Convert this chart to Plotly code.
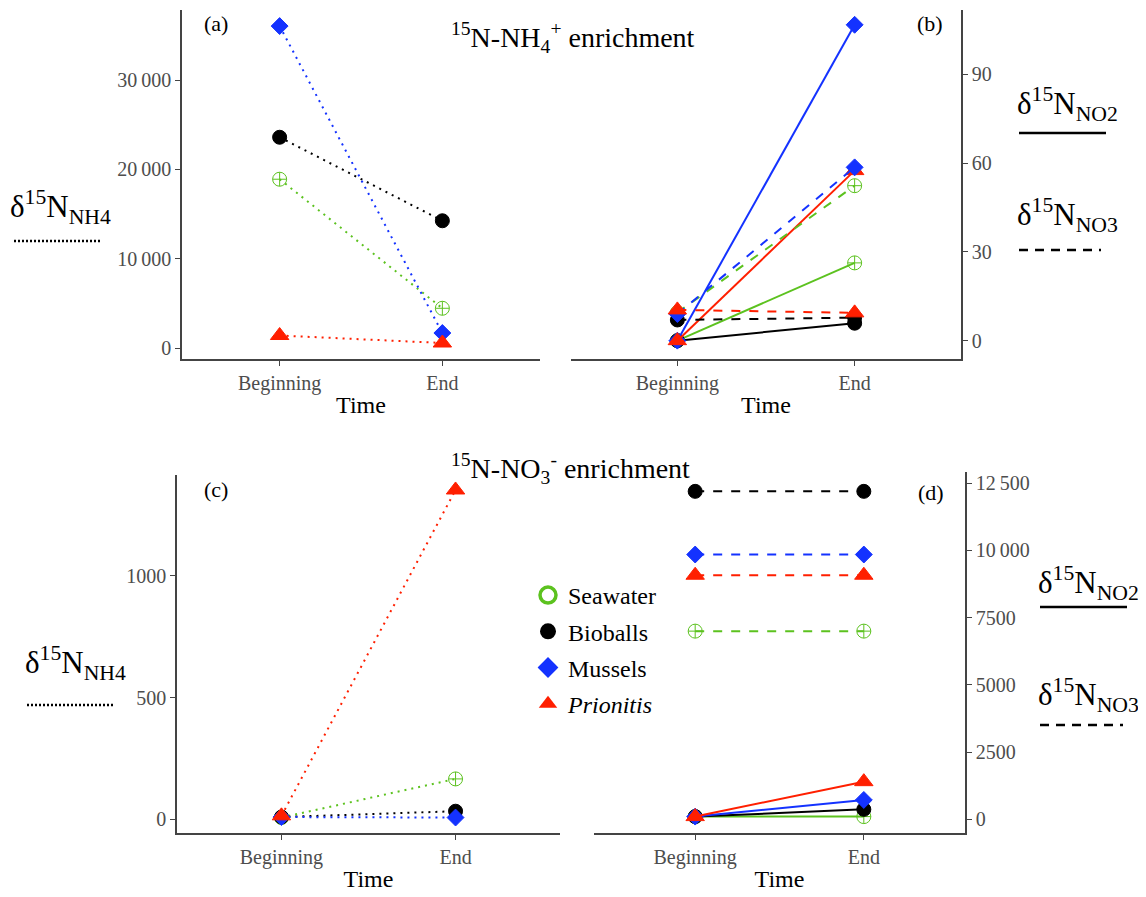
import plotly.graph_objects as go

# ---------------- data ----------------
groups = ["Seawater", "Bioballs", "Mussels", "Prionitis"]
time_labels = ["Beginning", "End"]

# panel (a): 15N-NH4+ enrichment, d15N-NH4 (dotted)
a_nh4_begin = [18900, 23600, 36050, 1400]
a_nh4_end = [4450, 14250, 1680, 560]

# panel (b): 15N-NH4+ enrichment, d15N-NO2 (solid) and d15N-NO3 (dashed)
b_no2_begin = [0.0, 0.0, 0.0, 0.0]
b_no2_end = [26.3, 5.9, 106.8, 57.5]
b_no3_begin = [9.5, 7.0, 9.0, 10.4]
b_no3_end = [52.4, 7.8, 58.6, 9.4]

# panel (c): 15N-NO3- enrichment, d15N-NH4 (dotted)
c_nh4_begin = [6, 8, 8, 13]
c_nh4_end = [165, 32, 6, 1354]

# panel (d): 15N-NO3- enrichment, d15N-NO2 (solid) and d15N-NO3 (dashed)
d_no2_begin = [100, 100, 100, 100]
d_no2_end = [100, 370, 720, 1400]
d_no3_begin = [7000, 12200, 9850, 9080]
d_no3_end = [7000, 12200, 9850, 9080]

# tick labels
a_tickvals = [0, 10000, 20000, 30000]
a_ticktext = ["0", "10\u2009000", "20\u2009000", "30\u2009000"]
b_tickvals = [0, 30, 60, 90]
b_ticktext = ["0", "30", "60", "90"]
c_tickvals = [0, 500, 1000]
c_ticktext = ["0", "500", "1000"]
d_tickvals = [0, 2500, 5000, 7500, 10000, 12500]
d_ticktext = ["0", "2500", "5000", "7500", "10\u2009000", "12\u2009500"]

# ---------------- styles ----------------
OFF = 8                      # default page body margin
W, H = 1146 - OFF, 897 - OFF
FONT = "Liberation Serif, Times New Roman, serif"
colors = {"Seawater": "#5cc21f", "Bioballs": "#000000", "Mussels": "#1432ff", "Prionitis": "#ff1f00"}
symbols = {"Seawater": "circle-cross-open", "Bioballs": "circle", "Mussels": "diamond", "Prionitis": "triangle-up"}
msize = {"Seawater": 14, "Bioballs": 14, "Mussels": 13, "Prionitis": 16}
DOT = "2px,5px"


def px_x(p):
    return (p - OFF) / W


def px_y(p):
    return 1 - (p - OFF) / H


xpos = [0, 1]
fig = go.Figure()


def add_series(begin, end, dash, xa, ya):
    for i, g in enumerate(groups):
        fig.add_trace(go.Scatter(
            x=xpos, y=[begin[i], end[i]], mode="lines+markers",
            line=dict(color=colors[g], width=2, dash=dash),
            marker=dict(symbol=symbols[g], size=msize[g], color=colors[g],
                        line=dict(width=1, color=colors[g])),
            xaxis=xa, yaxis=ya, showlegend=False, name=g, cliponaxis=False))


add_series(a_nh4_begin, a_nh4_end, DOT, "x", "y")
add_series(b_no2_begin, b_no2_end, "solid", "x2", "y2")
add_series(b_no3_begin, b_no3_end, "dash", "x2", "y2")
add_series(c_nh4_begin, c_nh4_end, DOT, "x3", "y3")
add_series(d_no3_begin, d_no3_end, "dash", "x4", "y4")
add_series(d_no2_begin, d_no2_end, "solid", "x4", "y4")

# legend entries (markers only)
leg_sym = {"Seawater": "circle-open", "Bioballs": "circle", "Mussels": "diamond", "Prionitis": "triangle-up"}
for g in groups:
    fig.add_trace(go.Scatter(
        x=[None], y=[None], mode="markers", xaxis="x3", yaxis="y3",
        name=("<i>%s</i>" % g) if g == "Prionitis" else g,
        legendgroup=g,
        marker=dict(symbol=leg_sym[g], size=16, color=colors[g],
                    line=dict(width=3.5 if g == "Seawater" else 0, color=colors[g]))))

axis_common = dict(showgrid=False, zeroline=False, showline=True, linecolor="#444", linewidth=1.5,
                   ticks="outside", ticklen=5, tickcolor="#444", tickwidth=1.2,
                   tickfont=dict(family=FONT, size=20, color="#4d4d4d"))


def xaxis(dom, anchor):
    return dict(axis_common, domain=[px_x(dom[0]), px_x(dom[1])], anchor=anchor,
                range=[-0.6, 1.6], tickvals=xpos, ticktext=time_labels,
                title=dict(text="Time", font=dict(family=FONT, size=24, color="black"), standoff=2))


def yaxis(dom, anchor, rng, tv, tt, side):
    return dict(axis_common, domain=[px_y(dom[1]), px_y(dom[0])], anchor=anchor, side=side,
                range=rng, tickvals=tv, ticktext=tt)


fig.update_layout(
    width=W, height=H, autosize=False,
    margin=dict(l=0, r=0, t=0, b=0),
    paper_bgcolor="white", plot_bgcolor="white",
    font=dict(family=FONT, color="black"),
    xaxis=xaxis([182, 540], "y"),
    yaxis=yaxis([10, 359], "x", [-1230, 37850], a_tickvals, a_ticktext, "left"),
    xaxis2=xaxis([571, 961], "y2"),
    yaxis2=yaxis([10, 359], "x2", [-6.2, 111.8], b_tickvals, b_ticktext, "right"),
    xaxis3=xaxis([177, 560], "y3"),
    yaxis3=yaxis([475, 833], "x3", [-57.6, 1415.6], c_tickvals, c_ticktext, "left"),
    xaxis4=xaxis([594, 965], "y4"),
    yaxis4=yaxis([472, 833], "x4", [-510, 12920], d_tickvals, d_ticktext, "right"),
    legend=dict(x=px_x(528), y=px_y(573), xanchor="left", yanchor="top",
                font=dict(family=FONT, size=24, color="black"),
                bgcolor="rgba(0,0,0,0)", tracegroupgap=2, itemsizing="trace"),
)

ann = []


def text(x, y, t, size, anchor="left"):
    ann.append(dict(x=px_x(x), y=px_y(y), xref="paper", yref="paper", text=t, showarrow=False,
                    xanchor=anchor, yanchor="middle", font=dict(family=FONT, size=size, color="black")))


# panel labels
text(202, 23, "(a)", 22)
text(915, 23, "(b)", 22)
text(202, 489, "(c)", 22)
text(916, 492, "(d)", 22)
# titles
text(449, 37, "<sup>15</sup>N-NH<sub>4</sub><sup>+</sup> enrichment", 28)
text(449, 468, "<sup>15</sup>N-NO<sub>3</sub><sup>-</sup> enrichment", 28)
# side line-type keys
text(8, 207, "\u03b4<sup>15</sup>N<sub>NH4</sub>", 31)
text(23, 663, "\u03b4<sup>15</sup>N<sub>NH4</sub>", 31)
text(1015, 104, "\u03b4<sup>15</sup>N<sub>NO2</sub>", 31)
text(1015, 215, "\u03b4<sup>15</sup>N<sub>NO3</sub>", 31)
text(1036, 583, "\u03b4<sup>15</sup>N<sub>NO2</sub>", 31)
text(1036, 695, "\u03b4<sup>15</sup>N<sub>NO3</sub>", 31)
fig.update_layout(annotations=ann)

shapes = []


def key_line(x0, x1, y, dash):
    shapes.append(dict(type="line", xref="paper", yref="paper", x0=px_x(x0), x1=px_x(x1),
                       y0=px_y(y), y1=px_y(y), line=dict(color="black", width=2.5, dash=dash)))


key_line(14, 100, 241, "2px,2px")
key_line(27, 113, 705, "2px,2px")
key_line(1019, 1106, 133, "solid")
key_line(1019, 1101, 250, "9px,7px")
key_line(1040, 1127, 607, "solid")
key_line(1040, 1123, 725, "9px,7px")
fig.update_layout(shapes=shapes)

fig.write_html("out.html")
